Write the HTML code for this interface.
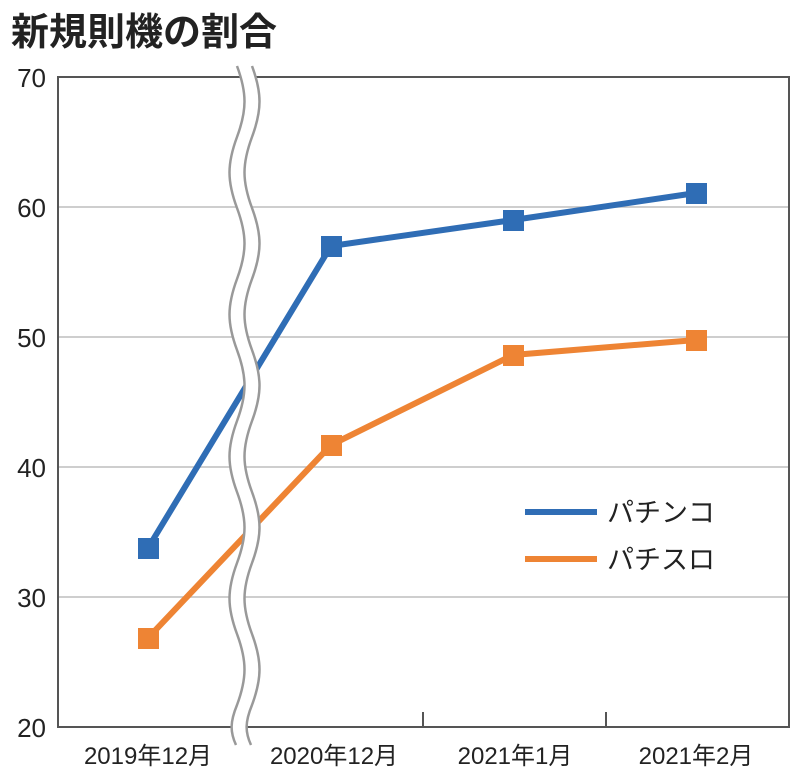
<!DOCTYPE html>
<html><head><meta charset="utf-8"><style>
html,body{margin:0;padding:0;background:#fff;}
svg{display:block;}
text{font-family:"Liberation Sans","Noto Sans CJK JP",sans-serif;fill:#222;}
</style></head><body>
<svg width="800" height="780" viewBox="0 0 800 780" xmlns="http://www.w3.org/2000/svg">
<text x="11" y="45" font-size="38" font-weight="bold" style="font-family:'Noto Sans CJK JP',sans-serif" fill="#222">新規則機の割合</text>
<g stroke="#bdbdbd" stroke-width="1.5">
<line x1="58" y1="207" x2="789" y2="207"/>
<line x1="58" y1="337" x2="789" y2="337"/>
<line x1="58" y1="467" x2="789" y2="467"/>
<line x1="58" y1="597" x2="789" y2="597"/>
</g>
<rect x="58" y="77" width="731" height="650" fill="none" stroke="#555" stroke-width="2"/>
<g stroke="#555" stroke-width="2">
<line x1="423" y1="727" x2="423" y2="712"/>
<line x1="606" y1="727" x2="606" y2="712"/>
</g>
<g font-size="26" text-anchor="end">
<text x="46" y="87">70</text>
<text x="46" y="217">60</text>
<text x="46" y="347">50</text>
<text x="46" y="477">40</text>
<text x="46" y="607">30</text>
<text x="46" y="737">20</text>
</g>
<g font-size="24" text-anchor="middle">
<text x="148" y="764">2019年12月</text>
<text x="334" y="764">2020年12月</text>
<text x="515" y="764">2021年1月</text>
<text x="696" y="764">2021年2月</text>
</g>
<polyline points="148,548 331,246 513,220 696,193" fill="none" stroke="#2f6db5" stroke-width="6"/>
<polyline points="148,638 331,445 513,355 696,340" fill="none" stroke="#ee8434" stroke-width="6"/>
<g fill="#2f6db5">
<rect x="138" y="538" width="21" height="21"/><rect x="321" y="236" width="21" height="21"/><rect x="503" y="210" width="21" height="21"/><rect x="686" y="183" width="21" height="21"/>
</g>
<g fill="#ee8434">
<rect x="138" y="628" width="21" height="21"/><rect x="321" y="435" width="21" height="21"/><rect x="503" y="345" width="21" height="21"/><rect x="686" y="330" width="21" height="21"/>
</g>
<path d="M237,66 C247,93 247,110 237,137 C227,164 227,181 237,208 C247,235 247,252 237,279 C227,306 227,323 237,350 C247,377 247,394 237,421 C227,448 227,465 237,492 C247,519 247,536 237,563 C227,590 227,607 237,634 C247,661 247,678 237,705 C230,722 230,732 236,745 L251,745 C245,732 245,722 252,705 C262,678 262,661 252,634 C242,607 242,590 252,563 C262,536 262,519 252,492 C242,465 242,448 252,421 C262,394 262,377 252,350 C242,323 242,306 252,279 C262,252 262,235 252,208 C242,181 242,164 252,137 C262,110 262,93 252,66 Z" fill="#fff"/>
<path d="M237,66 C247,93 247,110 237,137 C227,164 227,181 237,208 C247,235 247,252 237,279 C227,306 227,323 237,350 C247,377 247,394 237,421 C227,448 227,465 237,492 C247,519 247,536 237,563 C227,590 227,607 237,634 C247,661 247,678 237,705 C230,722 230,732 236,745" fill="none" stroke="#999" stroke-width="2.5"/>
<path d="M252,66 C262,93 262,110 252,137 C242,164 242,181 252,208 C262,235 262,252 252,279 C242,306 242,323 252,350 C262,377 262,394 252,421 C242,448 242,465 252,492 C262,519 262,536 252,563 C242,590 242,607 252,634 C262,661 262,678 252,705 C245,722 245,732 251,745" fill="none" stroke="#999" stroke-width="2.5"/>
<line x1="525" y1="512" x2="597" y2="512" stroke="#2f6db5" stroke-width="6"/>
<line x1="525" y1="559" x2="597" y2="559" stroke="#ee8434" stroke-width="6"/>
<text x="607" y="522" font-size="27">パチンコ</text>
<text x="607" y="569" font-size="27">パチスロ</text>
</svg>
</body></html>
